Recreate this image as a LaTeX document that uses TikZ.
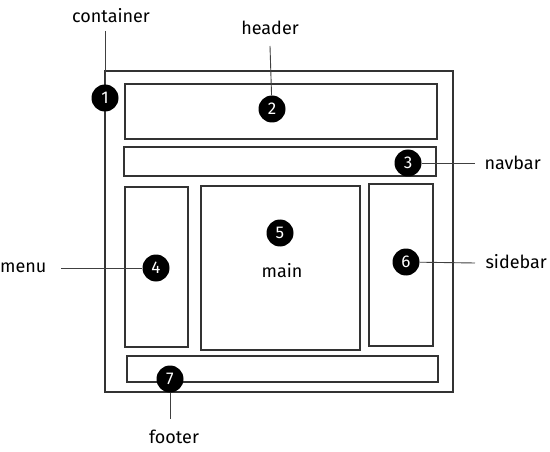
\documentclass[tikz,border=0pt]{standalone}
\usepackage{fontspec}
\setmainfont{Fira Sans}
\begin{document}
\begin{tikzpicture}[x=1pt,y=-1pt,
  box/.style={draw=black!80,line width=1.1pt},
  badge/.style={circle,fill=black,text=white,inner sep=0pt,minimum size=27pt,font=\fontsize{17}{17}\selectfont},
  lbl/.style={font=\fontsize{18}{18}\selectfont,text=black},
  lead/.style={draw=black!75,line width=0.9pt}]
\useasboundingbox (0,0) rectangle (550,452);
\fill[white] (0,0) rectangle (550,452);
% boxes
\draw[box] (105,71) rectangle (453,392);
\draw[box] (125,84) rectangle (437,139);
\draw[box] (124,147) rectangle (436,176);
\draw[box] (125,187) rectangle (188,347);
\draw[box] (201,186) rectangle (360,350);
\draw[box] (369,184) rectangle (433,346);
\draw[box] (127,356) rectangle (438,382);
% labels
\node[lbl] (tcont) at (111,16) {container};
\node[lbl] (thead) at (270,28) {header};
\node[lbl,anchor=west] (tnav) at (481,163) {navbar};
\node[lbl,anchor=east] (tmenu) at (50,268) {menu};
\node[lbl] (tmain) at (282,271) {main};
\node[lbl,anchor=west] (tside) at (482,262) {sidebar};
\node[lbl] (tfoot) at (174,437) {footer};
% leader end points
\coordinate (c1) at (105,31);
\coordinate (c2) at (270,46);
\coordinate (c3) at (475,163);
\coordinate (c4) at (61,268);
\coordinate (c6) at (475,263);
\coordinate (c7) at (170,419);
% badges
\node[badge] (b1) at (105,98) {1};
\node[badge] (b2) at (272,109) {2};
\node[badge] (b3) at (408,163) {3};
\node[badge] (b4) at (156,268) {4};
\node[badge] (b5) at (280,233) {5};
\node[badge] (b6) at (406,262) {6};
\node[badge] (b7) at (170,379) {7};
% leaders
\draw[lead] (c1) -- (b1);
\draw[lead] (c2) -- (b2);
\draw[lead] (b3) -- (c3);
\draw[lead] (c4) -- (b4);
\draw[lead] (b6) -- (c6);
\draw[lead] (b7) -- (c7);
\end{tikzpicture}
\end{document}
